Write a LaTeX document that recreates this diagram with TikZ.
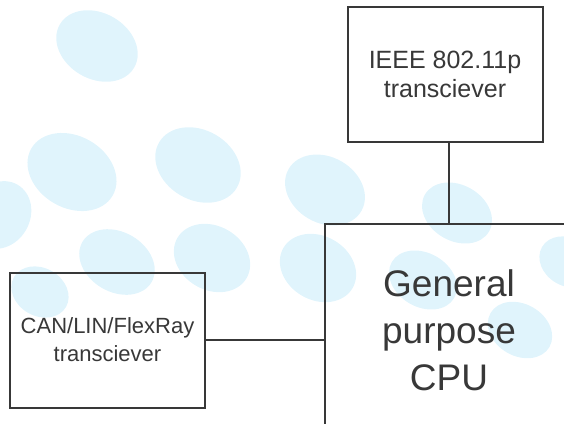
\documentclass[tikz,border=0pt]{standalone}
\usepackage{fontspec}
\setmainfont{Liberation Sans}
\usetikzlibrary{positioning}

\definecolor{blobblue}{RGB}{224,244,252}
\definecolor{inkgray}{RGB}{56,56,56}

\begin{document}
\begin{tikzpicture} [x=1pt, y=-1pt,
		% define styles
		blobstyle/.style={
			% The filling:
			fill=blobblue,
			draw=none
		},
		boxnodestyle/.style={
			% The shape:
			rectangle,
			% The border:
			line width=2pt,
			draw=inkgray,
			% Font
			text=inkgray,
			align=center
		},
		wire/.style={
			-,
			% Thickness
			line width=2pt,
			% Color
			inkgray
		}]
		% end of style definition

		\useasboundingbox (0,0) rectangle (564,423);
		\clip (0,0) rectangle (564,423);

		% background blobs
		\foreach \cx/\cy/\rx/\ry in {97/46/43/33, 72/172/47/36, 198/165/45/35, 325/190/42/33,
			457/213/37/28, 117/262/40/30, 212/258/40/32, 318/268/40/32, 0/215/30/35,
			40/292/30/24, 520/330/34/26, 568/262/30/24, 423/280/36/27}
			\fill [blobstyle, rotate around={-30:(\cx,\cy)}] (\cx,\cy) ellipse [x radius=\rx, y radius=\ry];

		% draw nodes
		\node (iCpu) [boxnodestyle, minimum width=248pt, minimum height=212pt,
			font=\fontsize{37}{47}\selectfont] at (449,330) {General\\purpose\\CPU};
		\node (iWifi) [boxnodestyle, minimum width=195pt, minimum height=135pt,
			font=\fontsize{25}{29}\selectfont, above=80pt of iCpu, xshift=-4pt] {IEEE 802.11p\\transciever};
		\node (iBus) [boxnodestyle, minimum width=195pt, minimum height=135pt,
			font=\fontsize{22}{28}\selectfont, left=118pt of iCpu, yshift=-10pt] {CAN/LIN/FlexRay\\transciever};

		% connect nodes
		\draw [wire] (iCpu) -- (iCpu |- iWifi.south);
		\draw [wire] (iBus) -- (iBus -| iCpu.west);
	\end{tikzpicture}
\end{document}
